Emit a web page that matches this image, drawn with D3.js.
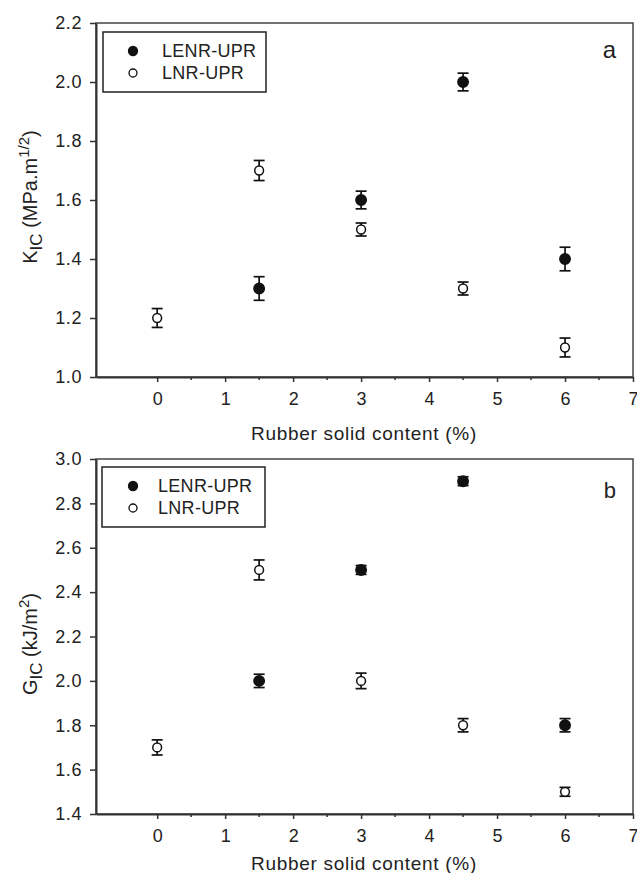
<!DOCTYPE html>
<html>
<head>
    <meta charset="UTF-8">
    <title>KIC and GIC vs rubber content</title>
    <script src="https://d3js.org/d3.v7.min.js"></script>
    <style>
        body {
            margin: 0;
            background: #fff;
        }
        svg text {
            font-family: "Liberation Sans", Arial, sans-serif;
            fill: #222;
        }
        .axis path, .axis line {
            stroke: #333;
        }
    </style>
</head>
<body>
    <div id="chart"></div>

    <script>
        // series data
        const seriesNames = ["LENR-UPR", "LNR-UPR"];
        const lenrX = [1.5, 3, 4.5, 6];
        const lnrX = [0, 1.5, 3, 4.5, 6];

        const kicLENR = [1.30, 1.60, 2.00, 1.40];
        const kicLENRErr = [0.04, 0.03, 0.03, 0.04];
        const kicLNR = [1.20, 1.70, 1.50, 1.30, 1.10];
        const kicLNRErr = [0.032, 0.034, 0.022, 0.022, 0.032];

        const gicLENR = [2.00, 2.50, 2.90, 1.80];
        const gicLENRErr = [0.03, 0.02, 0.02, 0.03];
        const gicLNR = [1.70, 2.50, 2.00, 1.80, 1.50];
        const gicLNRErr = [0.034, 0.045, 0.035, 0.03, 0.02];

        const xTicks = [0, 1, 2, 3, 4, 5, 6, 7];
        const xMinorTicks = [0.5, 1.5, 2.5, 3.5, 4.5, 5.5, 6.5];
        const kicTicks = [1.0, 1.2, 1.4, 1.6, 1.8, 2.0, 2.2];
        const gicTicks = [1.4, 1.6, 1.8, 2.0, 2.2, 2.4, 2.6, 2.8, 3.0];

        const width = 637;
        const height = 873;

        const svg = d3.select("#chart")
            .append("svg")
            .attr("width", width)
            .attr("height", height);

        const x = d3.scaleLinear().domain([-0.9, 7]).range([96, 633]);

        function zip(xs, ys, es) {
            return xs.map((v, i) => ({x: v, y: ys[i], e: es[i]}));
        }

        function drawPanel(p) {
            const y = d3.scaleLinear().domain(p.domain).range([p.bottom, p.top]);
            const g = svg.append("g");

            // frame
            g.append("rect")
                .attr("x", 96).attr("y", p.top)
                .attr("width", 633 - 96).attr("height", p.bottom - p.top)
                .attr("fill", "none").attr("stroke", "#444").attr("stroke-width", 1.5);

            // x axis
            const xAxis = g.append("g")
                .attr("class", "axis")
                .attr("transform", `translate(0,${p.bottom})`)
                .call(d3.axisBottom(x).tickValues(xTicks).tickFormat(d3.format("d"))
                    .tickSizeInner(5).tickSizeOuter(0).tickPadding(10));
            xAxis.select(".domain").attr("stroke-width", 2);
            xAxis.selectAll(".tick line").attr("stroke-width", 1.5);
            xAxis.selectAll("text").style("font-size", "18px").attr("fill", "#222");

            g.append("g")
                .selectAll("line")
                .data(xMinorTicks)
                .join("line")
                .attr("x1", d => x(d)).attr("x2", d => x(d))
                .attr("y1", p.bottom).attr("y2", p.bottom + 3)
                .attr("stroke", "#333").attr("stroke-width", 1.5);

            // y axis
            const yAxis = g.append("g")
                .attr("class", "axis")
                .attr("transform", "translate(96,0)")
                .call(d3.axisLeft(y).tickValues(p.ticks).tickFormat(d3.format(".1f"))
                    .tickSizeInner(6).tickSizeOuter(0).tickPadding(8));
            yAxis.select(".domain").attr("stroke-width", 2);
            yAxis.selectAll(".tick line").attr("stroke-width", 1.5);
            yAxis.selectAll("text").style("font-size", "18px")
                .style("letter-spacing", "0.6px").attr("fill", "#222");

            // x title
            g.append("text")
                .attr("x", 364).attr("y", p.bottom + p.titleOffset)
                .attr("text-anchor", "middle")
                .style("font-size", "19px")
                .style("letter-spacing", "0.7px")
                .text("Rubber solid content (%)");

            // y title
            const yt = g.append("text")
                .attr("transform", `translate(37,${p.yLabelY}) rotate(-90)`)
                .attr("text-anchor", "middle")
                .style("font-size", "20px");
            p.yLabel(yt);

            // panel letter
            g.append("text")
                .attr("x", 616).attr("y", p.letterY)
                .attr("text-anchor", "end")
                .style("font-size", p.letterSize + "px")
                .text(p.letter);

            // error bars + markers
            const series = [
                {pts: p.lenr, filled: true},
                {pts: p.lnr, filled: false}
            ];
            series.forEach(s => {
                const eg = g.append("g").selectAll("g")
                    .data(s.pts)
                    .join("g")
                    .attr("stroke", "#111")
                    .attr("stroke-width", 1.7);
                eg.append("line")
                    .attr("x1", d => x(d.x)).attr("x2", d => x(d.x))
                    .attr("y1", d => y(d.y - d.e)).attr("y2", d => y(d.y + d.e));
                eg.append("line")
                    .attr("x1", d => x(d.x) - 5.5).attr("x2", d => x(d.x) + 5.5)
                    .attr("y1", d => y(d.y + d.e)).attr("y2", d => y(d.y + d.e));
                eg.append("line")
                    .attr("x1", d => x(d.x) - 5.5).attr("x2", d => x(d.x) + 5.5)
                    .attr("y1", d => y(d.y - d.e)).attr("y2", d => y(d.y - d.e));

                g.append("g").selectAll("circle")
                    .data(s.pts)
                    .join("circle")
                    .attr("cx", d => x(d.x))
                    .attr("cy", d => y(d.y))
                    .attr("r", s.filled ? 5.2 : 4.4)
                    .attr("fill", s.filled ? "#111" : "#fff")
                    .attr("stroke", "#111")
                    .attr("stroke-width", 1.5);
            });

            // legend
            const lg = p.legend;
            g.append("rect")
                .attr("x", lg.x).attr("y", lg.y)
                .attr("width", 163).attr("height", 60)
                .attr("fill", "#fff").attr("stroke", "#222").attr("stroke-width", 1.5);
            seriesNames.forEach((name, i) => {
                const cy = lg.y + 19 + i * 22;
                g.append("circle")
                    .attr("cx", 133).attr("cy", cy)
                    .attr("r", i === 0 ? 4.5 : 4)
                    .attr("fill", i === 0 ? "#111" : "#fff")
                    .attr("stroke", "#111").attr("stroke-width", 1.3);
                g.append("text")
                    .attr("x", lg.textX).attr("y", cy + 6)
                    .style("font-size", "18px")
                    .style("letter-spacing", "0.3px")
                    .text(name);
            });
        }

        drawPanel({
            domain: [1.0, 2.2], ticks: kicTicks, top: 23, bottom: 377,
            lenr: zip(lenrX, kicLENR, kicLENRErr),
            lnr: zip(lnrX, kicLNR, kicLNRErr),
            letter: "a", letterY: 58, letterSize: 24,
            legend: {x: 103, y: 32, textX: 162},
            titleOffset: 63,
            yLabelY: 197,
            yLabel: t => {
                t.append("tspan").text("K");
                t.append("tspan").attr("dy", 5).style("font-size", "17px").text("IC");
                t.append("tspan").attr("dy", -5).text(" (MPa.m");
                t.append("tspan").attr("dy", -8).style("font-size", "15px").text("1/2");
                t.append("tspan").attr("dy", 8).text(")");
            }
        });

        drawPanel({
            domain: [1.4, 3.0], ticks: gicTicks, top: 459, bottom: 814,
            lenr: zip(lenrX, gicLENR, gicLENRErr),
            lnr: zip(lnrX, gicLNR, gicLNRErr),
            letter: "b", letterY: 498, letterSize: 22,
            legend: {x: 102, y: 467, textX: 158},
            titleOffset: 56,
            yLabelY: 644,
            yLabel: t => {
                t.append("tspan").text("G");
                t.append("tspan").attr("dy", 5).style("font-size", "17px").text("IC");
                t.append("tspan").attr("dy", -5).text(" (kJ/m");
                t.append("tspan").attr("dy", -8).style("font-size", "15px").text("2");
                t.append("tspan").attr("dy", 8).text(")");
            }
        });
    </script>
</body>
</html>
